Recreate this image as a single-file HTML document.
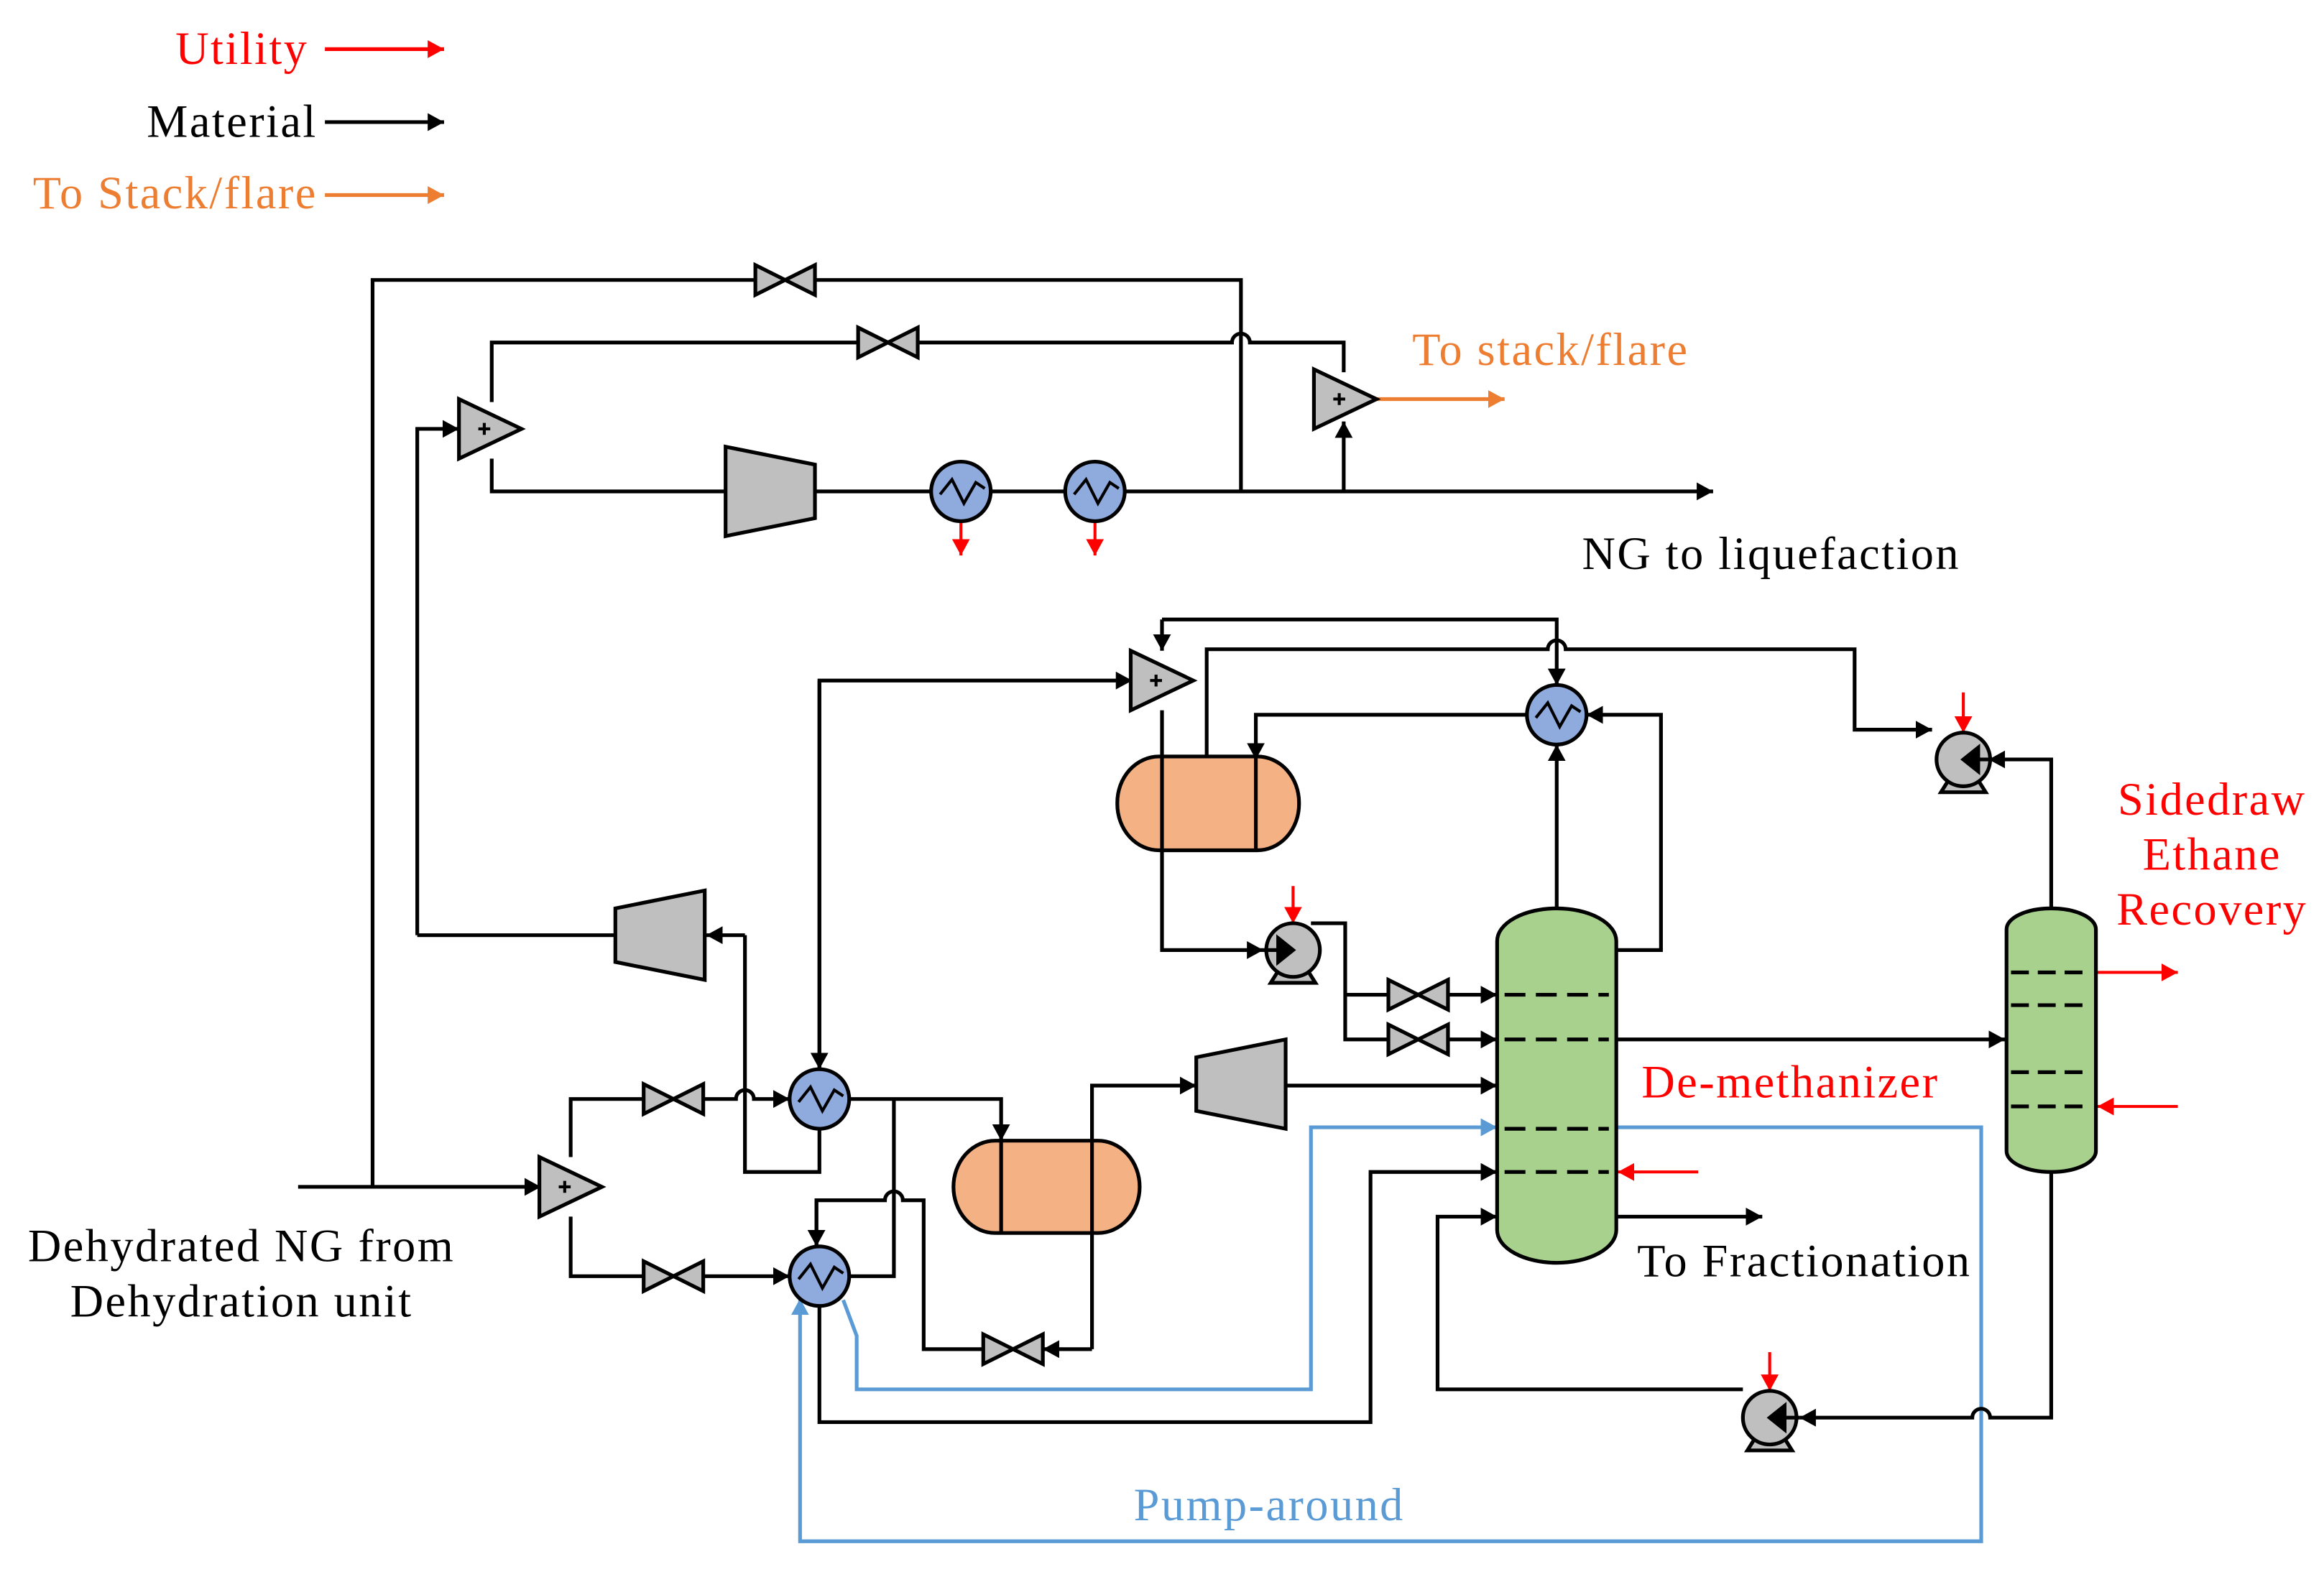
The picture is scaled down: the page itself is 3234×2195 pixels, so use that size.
<!DOCTYPE html>
<html><head><meta charset="utf-8"><style>
html,body{margin:0;padding:0;background:#fff}
svg{display:block}
text{font-family:"Liberation Serif",serif;font-size:31px;letter-spacing:1.2px}
</style></head><body>
<svg width="3234" height="2195" viewBox="0 0 1560 1059" xmlns="http://www.w3.org/2000/svg">
<defs>
<marker id="a" markerUnits="userSpaceOnUse" markerWidth="14" markerHeight="14" refX="11" refY="6" orient="auto"><path d="M0,0 L11,6 L0,12 Z" fill="#000"/></marker>
<marker id="r" markerUnits="userSpaceOnUse" markerWidth="14" markerHeight="14" refX="11" refY="6" orient="auto"><path d="M0,0 L11,6 L0,12 Z" fill="#f00"/></marker>
<marker id="o" markerUnits="userSpaceOnUse" markerWidth="14" markerHeight="14" refX="11" refY="6" orient="auto"><path d="M0,0 L11,6 L0,12 Z" fill="#ed7d31"/></marker>
<marker id="b" markerUnits="userSpaceOnUse" markerWidth="14" markerHeight="14" refX="11" refY="6" orient="auto"><path d="M0,0 L11,6 L0,12 Z" fill="#5b9bd5"/></marker>
<g id="hx"><circle r="20" fill="#8faadc" stroke="#000" stroke-width="2.5"/><path d="M-14,2 L-6,-8 L2,8 L10,-6 L16,-2" fill="none" stroke="#000" stroke-width="2"/></g>
<g id="pump"><path d="M-15,22 L-10,14 L10,14 L15,22 Z" fill="#bfbfbf" stroke="#000" stroke-width="2.5"/><circle r="18" fill="#bfbfbf" stroke="#000" stroke-width="2.5"/></g>
<g id="valve"><path d="M-20,-10 L20,10 L20,-10 L-20,10 Z" fill="#bfbfbf" stroke="#000" stroke-width="2.5" stroke-linejoin="miter"/></g>
<g id="mix"><path d="M-20,-20 L22,0 L-20,20 Z" fill="#bfbfbf" stroke="#000" stroke-width="2.5"/><path d="M-7,0 h8 M-3,-4 v8" stroke="#000" stroke-width="2"/></g>
</defs>
<g fill="none" stroke="#000" stroke-width="2.5">
<path d="M218,33 H298" stroke="#f00" marker-end="url(#r)"/>
<path d="M218,82 H298" marker-end="url(#a)"/>
<path d="M218,131 H298" stroke="#ed7d31" marker-end="url(#o)"/>
<path d="M250,797 V188 H833 V330"/>
<path d="M330,270 V230 H827 a6,6 0 0 1 12,0 H902 V250" />
<path d="M330,308 V330 H487"/>
<path d="M547,330 H625 M665,330 H715 M755,330 H1150" marker-end="url(#a)"/>
<path d="M902,330 V283" marker-end="url(#a)"/>
<path d="M280,628 V288 H308" marker-end="url(#a)"/>
<path d="M280,628 H413"/>
<path d="M500,628 H474" marker-end="url(#a)"/>
<path d="M500,628 V787 H550 V758"/>
<path d="M200,797 H363" marker-end="url(#a)"/>
<path d="M383,777 V738 H494 a6,6 0 0 1 12,0 H530" marker-end="url(#a)"/>
<path d="M383,817 V857 H530" marker-end="url(#a)"/>
<path d="M550,718 V457 H760" marker-end="url(#a)"/>
<path d="M550,457 V718" marker-end="url(#a)"/>
<path d="M570,738 H672 V766" marker-end="url(#a)"/>
<path d="M600,738 V857 H570"/>
<path d="M548,837 V806 H594 a6,6 0 0 1 12,0 H620 V906 H660"/>
<path d="M548,806 V837" marker-end="url(#a)"/>
<path d="M733,906 H700" marker-end="url(#a)"/>
<path d="M733,906 V729 H803" marker-end="url(#a)"/>
<path d="M863,729 H1005" marker-end="url(#a)"/>
<path d="M550,877 V955 H920 V787 H1005" marker-end="url(#a)"/>
<path d="M566,873 L575,897 V933 H880 V757 H1005" stroke="#5b9bd5" marker-end="url(#b)"/>
<path d="M1085,757 H1330 V1035 H537 V872" stroke="#5b9bd5" marker-end="url(#b)"/>
<path d="M1045,610 V500" marker-end="url(#a)"/>
<path d="M1085,638 H1115 V480 H1065" marker-end="url(#a)"/>
<path d="M1025,480 H843 V510" marker-end="url(#a)"/>
<path d="M810,510 V436 H1039 a6,6 0 0 1 12,0 H1245 V490 H1297" marker-end="url(#a)"/>
<path d="M780,416 H1045 V460" marker-end="url(#a)"/>
<path d="M780,416 V437" marker-end="url(#a)"/>
<path d="M780,477 V638 H848" marker-end="url(#a)"/>
<path d="M880,620 H903 V698 H932"/>
<path d="M903,668 H932"/>
<path d="M972,668 H1005" marker-end="url(#a)"/>
<path d="M972,698 H1005" marker-end="url(#a)"/>
<path d="M1085,698 H1346" marker-end="url(#a)"/>
<path d="M1377,610 V510 H1335" marker-end="url(#a)"/>
<path d="M1377,787 V952 H1336 a6,6 0 0 0 -12,0 H1208" marker-end="url(#a)"/>
<path d="M1170,933 H965 V817 H1005" marker-end="url(#a)"/>
<path d="M1085,817 H1183" marker-end="url(#a)"/>
<path d="M645,350 V373" stroke="#f00" stroke-width="2" marker-end="url(#r)"/>
<path d="M735,350 V373" stroke="#f00" stroke-width="2" marker-end="url(#r)"/>
<path d="M868,595 V620" stroke="#f00" stroke-width="2" marker-end="url(#r)"/>
<path d="M1318,465 V492" stroke="#f00" stroke-width="2" marker-end="url(#r)"/>
<path d="M1188,908 V934" stroke="#f00" stroke-width="2" marker-end="url(#r)"/>
<path d="M1140,787 H1086" stroke="#f00" stroke-width="2" marker-end="url(#r)"/>
<path d="M1407,653 H1462" stroke="#f00" stroke-width="2" marker-end="url(#r)"/>
<path d="M1462,743 H1408" stroke="#f00" stroke-width="2" marker-end="url(#r)"/>
<path d="M922,268 H1010" stroke="#ed7d31" marker-end="url(#o)"/>
</g>
<g stroke="#000" stroke-width="2.5">
<path d="M487,300 L547,312 L547,348 L487,360 Z" fill="#bfbfbf"/>
<path d="M413,610 L473,598 L473,658 L413,646 Z" fill="#bfbfbf"/>
<path d="M803,710 L863,698 L863,758 L803,746 Z" fill="#bfbfbf"/>
<rect x="640" y="766" width="125" height="62" rx="28" ry="31" fill="#f4b183"/>
<path d="M672,766 V828 M733,766 V828" fill="none"/>
<rect x="750" y="508" width="122" height="63" rx="28" ry="31" fill="#f4b183"/>
<path d="M780,508 V571 M843,508 V571" fill="none"/>
<rect x="1005" y="610" width="80" height="238" rx="40" ry="22" fill="#a9d18e"/>
<path d="M1010,668 H1080 M1010,698 H1080 M1010,758 H1080 M1010,787 H1080" stroke-dasharray="14,7" fill="none"/>
<rect x="1347" y="610" width="60" height="177" rx="30" ry="14" fill="#a9d18e"/>
<path d="M1350,653 H1404 M1350,675 H1404 M1350,720 H1404 M1350,743 H1404" stroke-dasharray="12,6" fill="none"/>
</g>
<use href="#mix" x="328" y="288"/>
<use href="#mix" x="902" y="268"/>
<use href="#mix" x="382" y="797"/>
<use href="#mix" x="779" y="457"/>
<use href="#hx" x="645" y="330"/>
<use href="#hx" x="735" y="330"/>
<use href="#hx" x="550" y="738"/>
<use href="#hx" x="550" y="857"/>
<use href="#hx" x="1045" y="480"/>
<use href="#valve" x="527" y="188"/>
<use href="#valve" x="596" y="230"/>
<use href="#valve" x="452" y="738"/>
<use href="#valve" x="452" y="857"/>
<use href="#valve" x="680" y="906"/>
<use href="#valve" x="952" y="668"/>
<use href="#valve" x="952" y="698"/>
<use href="#pump" x="868" y="638"/>
<use href="#pump" x="1318" y="510"/>
<use href="#pump" x="1188" y="952"/>
<g fill="#000" stroke="#000" stroke-width="2.5">
<path d="M848,638 H860" /><path d="M858,630 L868,638 L858,646 Z"/>
<path d="M1338,510 H1326" /><path d="M1328,502 L1318,510 L1328,518 Z"/>
<path d="M1208,952 H1196" /><path d="M1198,944 L1188,952 L1198,960 Z"/>
</g>
<text x="207" y="43" fill="#f00" text-anchor="end">Utility</text>
<text x="213" y="92" text-anchor="end">Material</text>
<text x="213" y="140" fill="#ed7d31" text-anchor="end">To Stack/flare</text>
<text x="948" y="245" fill="#ed7d31">To stack/flare</text>
<text x="1062" y="382">NG to liquefaction</text>
<text x="1102" y="737" fill="#f00">De-methanizer</text>
<text x="1099" y="857">To Fractionation</text>
<text x="1485" y="547" fill="#f00" text-anchor="middle">Sidedraw</text>
<text x="1485" y="584" fill="#f00" text-anchor="middle">Ethane</text>
<text x="1485" y="621" fill="#f00" text-anchor="middle">Recovery</text>
<text x="162" y="847" text-anchor="middle">Dehydrated NG from</text>
<text x="162" y="884" text-anchor="middle">Dehydration unit</text>
<text x="852" y="1021" fill="#5b9bd5" text-anchor="middle">Pump-around</text>
</svg>
</body></html>
